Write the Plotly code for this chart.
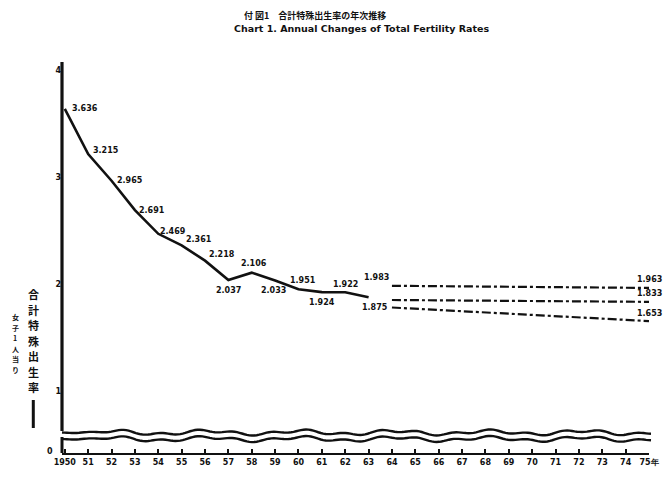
import numpy as np
import plotly.graph_objects as go

# ---- data ----
years_actual = [1950, 1951, 1952, 1953, 1954, 1955, 1956, 1957, 1958, 1959, 1960, 1961, 1962, 1963]
tfr_actual = [3.636, 3.215, 2.965, 2.691, 2.469, 2.361, 2.218, 2.037, 2.106, 2.033, 1.951, 1.924, 1.922, 1.875]
labels_actual = ["3.636", "3.215", "2.965", "2.691", "2.469", "2.361", "2.218", "2.037", "2.106",
                 "2.033", "1.951", "1.924", "1.922", "1.875"]

years_proj = [1964, 1975]
tfr_high = [1.983, 1.963]
tfr_mid = [1.850, 1.833]
tfr_low = [1.780, 1.653]
labels_high = ["1.983", "1.963"]
labels_mid = ["", "1.833"]
labels_low = ["", "1.653"]

tick_years = list(range(1950, 1976))
tick_text = ["1950"] + [str(y % 100) for y in range(1951, 1975)] + ["75年"]
y_ticks = [1, 2, 3, 4]

title_jp = "付 図1　合計特殊出生率の年次推移"
title_en = "Chart 1. Annual Changes of Total Fertility Rates"
ylab_main = "合計特殊出生率"
ylab_sub = "女子1人当り"

# ---- style ----
FONT = "DejaVu Sans"
JP = "Noto Sans CJK JP"
INK = "#111111"
OFF = 8  # page body margin

# label placement: (xanchor, xshift, yshift)
place_actual = [("left", 5, 0), ("left", 3, 4), ("left", 3, 0), ("left", 2, 0), ("left", 0, 2),
                ("left", 2, 6), ("left", 2, 6), ("center", 0, -10), ("center", 2, 9),
                ("center", -2, -10), ("center", 5, 9), ("center", 0, -10), ("center", 0, 8),
                ("center", 6, -10)]
place_proj = [("right", -1, 8), ("center", 0, 8)]

fig = go.Figure()
fig.add_trace(go.Scatter(
    x=years_actual, y=tfr_actual, mode="lines",
    line=dict(color=INK, width=2.6), showlegend=False, hoverinfo="x+y"))
for vals in (tfr_high, tfr_mid, tfr_low):
    fig.add_trace(go.Scatter(
        x=years_proj, y=vals, mode="lines",
        line=dict(color=INK, width=2.2, dash="dashdot"), showlegend=False, hoverinfo="x+y"))

# plot area in reference-pixel coordinates
L, T, W, H = 62, 62, 593, 391
def px2paper(xp, yp):
    return (xp - L) / W, (T + H - yp) / H

annotations = []
def add_label(x, y, t, pl):
    if not t:
        return
    xa, xs_, ys_ = pl
    annotations.append(dict(text="<b>%s</b>" % t, x=x, y=y, xref="x", yref="y", showarrow=False,
                            xanchor=xa, yanchor="middle", xshift=xs_, yshift=ys_,
                            font=dict(family=FONT, size=8, color=INK)))

for x, y, t, pl in zip(years_actual, tfr_actual, labels_actual, place_actual):
    add_label(x, y, t, pl)
for vals, labs in [(tfr_high, labels_high), (tfr_mid, labels_mid), (tfr_low, labels_low)]:
    for x, y, t, pl in zip(years_proj, vals, labs, place_proj):
        add_label(x, y, t, pl)

shapes = []
xs = np.linspace(62, 657, 240)
for base in (432.5, 439.0):
    ys = base + 1.8 * np.sin((xs - 60) / 95 * 2 * np.pi + 1.2) + 1.3 * np.sin((xs - 60) / 37 * 2 * np.pi)
    ys = np.where(xs < 120, base + (ys - base) * (xs - 62) / 58, ys)
    pts = [px2paper(a, b) for a, b in zip(xs, ys)]
    path = "M " + " L ".join("%.4f,%.4f" % p for p in pts)
    shapes.append(dict(type="path", path=path, xref="paper", yref="paper",
                       line=dict(color=INK, width=2.4)))

# y axis drawn in two segments (gap at the break)
shapes.append(dict(type="line", xref="paper", yref="paper", x0=0, x1=0,
                   y0=0, y1=px2paper(62, 437)[1], line=dict(color=INK, width=3)))
shapes.append(dict(type="line", xref="paper", yref="paper", x0=0, x1=0,
                   y0=px2paper(62, 431)[1], y1=1, line=dict(color=INK, width=3.2)))
# vertical bar under the y label
shapes.append(dict(type="line", xref="paper", yref="paper",
                   x0=px2paper(33, 0)[0], x1=px2paper(33, 0)[0],
                   y0=px2paper(0, 428)[1], y1=px2paper(0, 400)[1],
                   line=dict(color=INK, width=3)))

annotations += [
    dict(text="<b>%s</b>" % title_jp, x=px2paper(318, 0)[0], y=px2paper(0, 8)[1],
         xref="paper", yref="paper", showarrow=False, xanchor="center", yanchor="top",
         borderpad=0, font=dict(family=JP, size=9, color=INK)),
    dict(text="<b>%s</b>" % title_en, x=px2paper(365, 0)[0], y=px2paper(0, 28)[1],
         xref="paper", yref="paper", showarrow=False, xanchor="center", yanchor="middle",
         borderpad=0, font=dict(family=FONT, size=9.5, color=INK)),
    dict(text="<b>0</b>", x=px2paper(50, 0)[0], y=px2paper(0, 451)[1],
         xref="paper", yref="paper", showarrow=False, xanchor="center", yanchor="middle",
         font=dict(family=FONT, size=8, color=INK)),
]
for i, ch in enumerate(ylab_main):
    annotations.append(dict(text="<b>%s</b>" % ch, x=px2paper(33, 0)[0], y=px2paper(0, 294 + i * 15.5)[1],
                            xref="paper", yref="paper", showarrow=False, xanchor="center",
                            yanchor="middle", font=dict(family=JP, size=11, color=INK)))
for i, ch in enumerate(ylab_sub):
    annotations.append(dict(text="<b>%s</b>" % ch, x=px2paper(15, 0)[0], y=px2paper(0, 317 + i * 10.5)[1],
                            xref="paper", yref="paper", showarrow=False, xanchor="center",
                            yanchor="middle", font=dict(family=JP, size=7, color=INK)))

fig.update_layout(
    width=671 - OFF, height=486 - OFF,
    margin=dict(l=L - OFF, r=671 - L - W, t=T - OFF, b=486 - T - H),
    paper_bgcolor="white", plot_bgcolor="white",
    shapes=shapes, annotations=annotations,
    xaxis=dict(range=[1949.88, 1975], tickvals=tick_years, ticktext=["<b>%s</b>" % t for t in tick_text],
               showgrid=False, zeroline=False, showline=True, linecolor=INK, linewidth=2.4,
               ticks="inside", ticklen=4, tickwidth=1.5, tickcolor=INK,
               tickfont=dict(family=FONT, size=8, color=INK)),
    yaxis=dict(range=[0.42, 4.075], tickvals=y_ticks, ticktext=["<b>%d</b>" % v for v in y_ticks],
               showgrid=False, zeroline=False, showline=False,
               ticks="", tickfont=dict(family=FONT, size=8, color=INK)),
)

fig.write_html("out.html")
